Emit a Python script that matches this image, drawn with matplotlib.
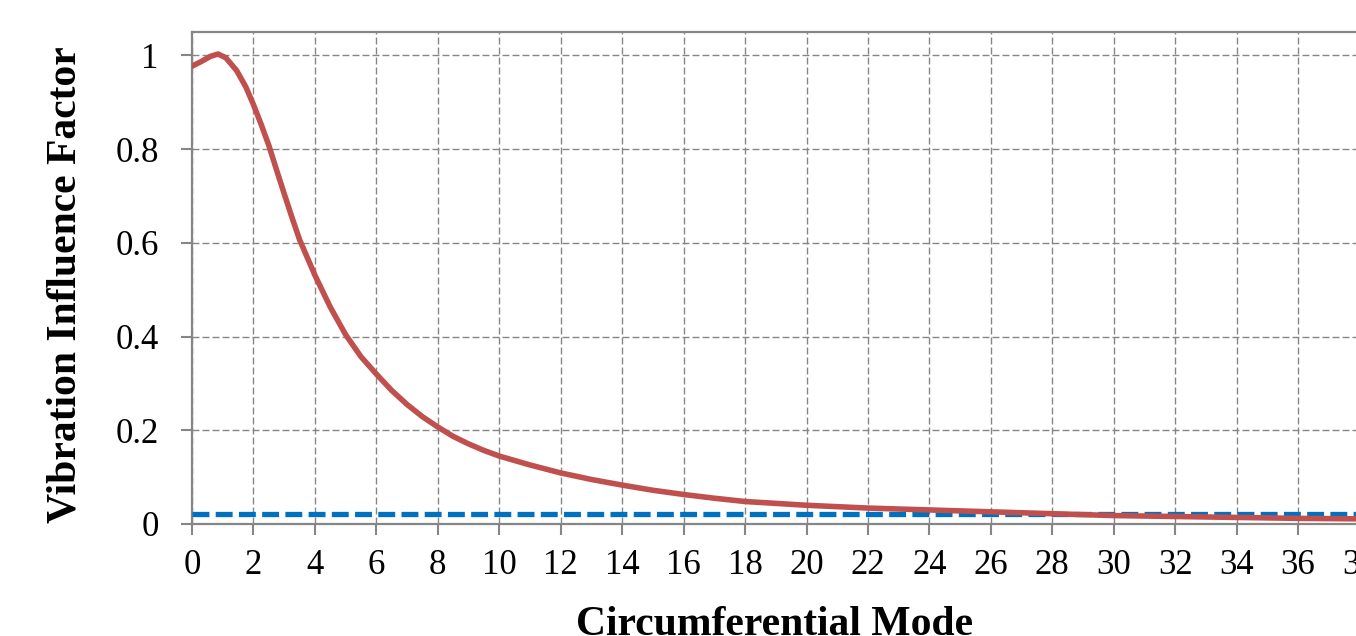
import numpy as np
import matplotlib.pyplot as plt

# circumferential mode vs vibration influence factor
modes = [0, 0.3, 0.6, 0.85, 1.1, 1.45, 1.75, 2, 2.25, 2.5, 2.75, 3, 3.25, 3.5, 4,
         4.5, 5, 5.5, 6, 6.5, 7, 7.5, 8, 8.5, 9, 9.5, 10, 11, 12, 13, 14, 15, 16,
         17, 18, 20, 22, 24, 26, 28, 30, 32, 34, 36, 38, 40]
factor = [0.977, 0.987, 0.998, 1.003, 0.995, 0.968, 0.933, 0.895, 0.853, 0.808,
          0.756, 0.705, 0.655, 0.607, 0.531, 0.463, 0.404, 0.357, 0.320, 0.285,
          0.255, 0.229, 0.207, 0.187, 0.171, 0.157, 0.145, 0.126, 0.109, 0.095,
          0.083, 0.072, 0.063, 0.055, 0.048, 0.040, 0.034, 0.030, 0.026, 0.022,
          0.018, 0.016, 0.014, 0.012, 0.011, 0.010]
limit_x = [0, 40]
limit_y = [0.022, 0.022]

xticks = np.arange(0, 41, 2)
yticks = [0, 0.2, 0.4, 0.6, 0.8, 1.0]
ylabels = ['0', '0.2', '0.4', '0.6', '0.8', '1']

plt.rcParams['font.family'] = 'Liberation Serif'
gray = '#868686'

fig = plt.figure(figsize=(13.56, 6.36), dpi=100)
ax = fig.add_axes([192/1356, 112/636, 1229/1356, 492/636])

ax.plot(limit_x, limit_y, color='#0070C0', lw=3.8, dashes=(3.2, 1.2), zorder=3)
ax.plot(modes, factor, color='#C0504D', lw=4.0, zorder=4,
        solid_capstyle='round', solid_joinstyle='round')

ax.set_xlim(0, 40)
ax.set_ylim(0, 1.05)
ax.set_xticks(xticks)
ax.set_yticks(yticks)
ax.set_yticklabels(ylabels)
ax.tick_params(labelsize=25, color=gray, width=1.5, length=8)
ax.tick_params(axis='x', pad=10)
ax.tick_params(axis='y', pad=16)

ax.grid(True, color=gray, lw=1.0, dashes=(5, 2.2))
ax.set_axisbelow(True)
for s in ax.spines.values():
    s.set_color(gray)
    s.set_linewidth(1.6)

ax.set_xlabel('Circumferential Mode', fontsize=30, fontweight='bold')
ax.xaxis.label.set_va('baseline')
ax.xaxis.set_label_coords(0.474, -0.2256)
ax.set_ylabel('Vibration Influence Factor', fontsize=30, fontweight='bold')
ax.yaxis.label.set_va('center')
ax.yaxis.set_label_coords(-0.1033, 0.486)

fig.savefig('out.png', dpi=100)
